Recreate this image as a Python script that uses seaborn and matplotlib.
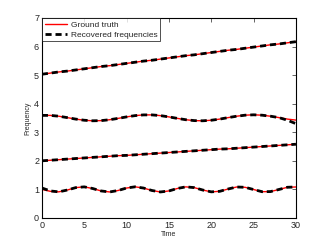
import numpy as np
import pandas as pd

import matplotlib
matplotlib.use("Agg")
import matplotlib.pyplot as plt
import seaborn as sns

time = list(range(31))

truth_1 = [1.00, 0.932, 0.914, 0.977, 1.062, 1.088, 1.031, 0.945, 0.910, 0.961, 1.047,
           1.090, 1.047, 0.961, 0.910, 0.945, 1.032, 1.088, 1.062, 0.977, 0.914,
           0.932, 1.014, 1.084, 1.073, 0.995, 0.919, 0.923, 0.997, 1.074, 1.084]
recov_1 = [1.05, 0.945] + truth_1[2:]

truth_2 = [2.00, 2.02, 2.04, 2.06, 2.08, 2.10, 2.12, 2.14, 2.16, 2.18, 2.19,
           2.21, 2.23, 2.25, 2.27, 2.29, 2.31, 2.33, 2.35, 2.37, 2.39,
           2.41, 2.42, 2.44, 2.46, 2.48, 2.50, 2.52, 2.54, 2.56, 2.58]
recov_2 = list(truth_2)

truth_3 = [3.59, 3.59, 3.561, 3.512, 3.460, 3.420, 3.401, 3.407, 3.438, 3.485, 3.537,
           3.582, 3.607, 3.607, 3.582, 3.537, 3.485, 3.438, 3.407, 3.401, 3.420,
           3.460, 3.512, 3.561, 3.597, 3.610, 3.597, 3.561, 3.512, 3.460, 3.425]
recov_3 = truth_3[:29] + [3.42, 3.30]

truth_4 = [5.03, 5.07, 5.11, 5.14, 5.18, 5.22, 5.26, 5.30, 5.33, 5.37, 5.41,
           5.45, 5.49, 5.52, 5.56, 5.60, 5.64, 5.68, 5.71, 5.75, 5.79,
           5.83, 5.87, 5.90, 5.94, 5.98, 6.02, 6.06, 6.09, 6.13, 6.17]
recov_4 = list(truth_4)

sns.set_style("white")
plt.rcParams['font.family'] = ['Liberation Sans', 'DejaVu Sans']

fig = plt.figure(figsize=(3.27, 2.46), dpi=100)
ax = fig.add_axes([0.128, 0.114, 0.777, 0.813])

truths = [truth_1, truth_2, truth_3, truth_4]
recovs = [recov_1, recov_2, recov_3, recov_4]
for i, (gt, rc) in enumerate(zip(truths, recovs)):
    sns.lineplot(x=time, y=gt, ax=ax, color='red', linewidth=1.0,
                 label='Ground truth' if i == 0 else None)
    sns.lineplot(x=time, y=rc, ax=ax, color='black', linewidth=2.0,
                 linestyle=(0, (2.2, 1.4)),
                 label='Recovered frequencies' if i == 0 else None)

ax.set_xlim(0, 30)
ax.set_ylim(0, 7)
ax.set_xticks([0, 5, 10, 15, 20, 25, 30])
ax.set_yticks(range(8))
ax.tick_params(direction='in', length=3, width=0.5, labelsize=6.5,
               top=True, right=True, pad=2)
for s in ax.spines.values():
    s.set_color('black')
    s.set_linewidth(0.8)
ax.set_xlabel('Time', fontsize=5, labelpad=1)
ax.set_ylabel('Frequency', fontsize=5, labelpad=2)

leg = ax.legend(loc='upper left', fontsize=6, handlelength=2.7,
                borderaxespad=0.05, borderpad=0.3, labelspacing=0.25,
                handletextpad=0.4, fancybox=False, frameon=True)
leg.get_frame().set_edgecolor('black')
leg.get_frame().set_linewidth(0.6)

fig.savefig('out.png', dpi=100)
